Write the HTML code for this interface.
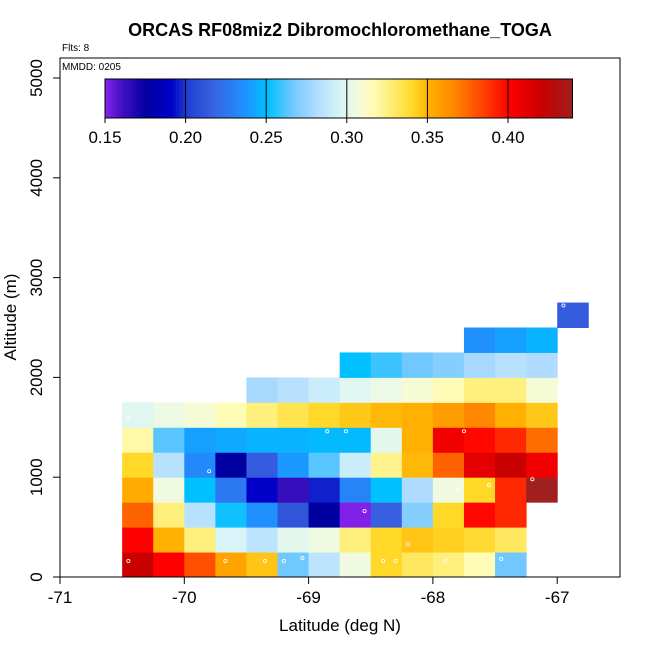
<!DOCTYPE html>
<html><head><meta charset="utf-8"><style>
body{margin:0;background:#fff;}
svg text{font-family:"Liberation Sans",sans-serif;}
</style></head><body>
<svg id="c" width="650" height="650" xmlns="http://www.w3.org/2000/svg">
<text x="340" y="36" text-anchor="middle" font-size="18" font-weight="bold">ORCAS RF08miz2 Dibromochloromethane_TOGA</text>
<text x="62" y="51" font-size="10">Flts: 8</text>
<g id="cells"></g>
<g id="bar"></g>
<rect x="60" y="58" width="560" height="519" fill="none" stroke="#000" stroke-width="1"/>
<text x="62" y="70" font-size="10">MMDD: 0205</text>
<g id="axes"></g>
<text x="340" y="631" text-anchor="middle" font-size="17">Latitude (deg N)</text>
<text transform="translate(16,317) rotate(-90)" text-anchor="middle" font-size="17">Altitude (m)</text>
</svg>
<script>
const latStart=-70.5, latStep=0.25, altStep=250;
const rowStartCols=[0,0,0,0,0,0,0,4,7,11,14];
const rowValues=[
[0.42,0.40,0.38,0.355,0.345,0.265,0.285,0.305,0.34,0.33,0.325,0.315,0.265],
[0.40,0.35,0.325,0.295,0.285,0.30,0.305,0.325,0.34,0.345,0.342,0.338,0.33],
[0.375,0.325,0.283,0.252,0.235,0.21,0.175,0.15,0.215,0.27,0.34,0.398,0.39],
[0.352,0.305,0.25,0.225,0.19,0.162,0.195,0.23,0.25,0.28,0.305,0.34,0.39,0.44],
[0.34,0.283,0.232,0.175,0.213,0.238,0.262,0.29,0.322,0.348,0.375,0.41,0.42,0.405],
[0.318,0.262,0.24,0.243,0.246,0.246,0.248,0.248,0.30,0.35,0.405,0.398,0.39,0.372],
[0.298,0.303,0.308,0.315,0.325,0.333,0.34,0.344,0.348,0.35,0.357,0.365,0.35,0.344],
[0.278,0.283,0.29,0.298,0.303,0.308,0.315,0.325,0.325,0.308],
[0.25,0.258,0.265,0.27,0.278,0.283,0.28],
[0.235,0.24,0.246],
[0.213]
];
const pointLat=[-70.45,-69.8,-69.35,-69.2,-69.05,-68.85,-68.7,-68.55,-68.4,-68.3,-68.2,-67.9,-67.75,-67.8,-67.55,-67.45,-67.2,-66.95,-70.45,-69.67];
const pointAlt=[160,1060,160,160,190,1460,1460,660,160,160,330,160,1460,880,920,180,980,2720,1590,160];
const xTicks=[-71,-70,-69,-68,-67];
const yTicks=[0,1000,2000,3000,4000,5000];
const cbTicks=[0.15,0.20,0.25,0.30,0.35,0.40];
const stops=[[0.15,[128,32,232]],[0.16,[64,16,192]],[0.175,[0,0,160]],[0.19,[0,0,200]],[0.20,[32,64,208]],[0.215,[56,96,224]],[0.235,[32,144,255]],[0.25,[0,192,255]],[0.265,[112,200,255]],[0.28,[176,220,255]],[0.295,[216,244,248]],[0.305,[240,250,224]],[0.315,[255,252,184]],[0.33,[255,232,96]],[0.34,[255,216,40]],[0.35,[255,176,0]],[0.365,[255,136,0]],[0.38,[255,80,0]],[0.40,[255,0,0]],[0.42,[200,0,0]],[0.44,[160,32,32]]];
function col(v){
 if(v<=stops[0][0])return `rgb(${stops[0][1]})`;
 for(let i=1;i<stops.length;i++){if(v<=stops[i][0]){const a=stops[i-1],b=stops[i],t=(v-a[0])/(b[0]-a[0]);return `rgb(${a[1].map((c,k)=>Math.round(c+(b[1][k]-c)*t)).join(',')})`;}}
 return `rgb(${stops[stops.length-1][1]})`;
}
const X=l=>60+(l+71)*124.3, Y=a=>577-a*0.0998;
const NS="http://www.w3.org/2000/svg";
function mk(t,a,p){const e=document.createElementNS(NS,t);for(const k in a)e.setAttribute(k,a[k]);p.appendChild(e);return e;}
const cells=document.getElementById('cells');
rowValues.forEach((row,r)=>row.forEach((v,i)=>{
 const l=latStart+(rowStartCols[r]+i)*latStep, a=r*altStep;
 const e=mk('rect',{x:X(l),y:Y(a+altStep),width:X(l+latStep)-X(l)+0.5,height:Y(a)-Y(a+altStep)+0.5,fill:col(v)},cells);
 
 
}));
pointLat.forEach((l,i)=>{
 const e=mk('circle',{cx:X(l),cy:Y(pointAlt[i]),r:1.6,fill:'none',stroke:'#fff','stroke-width':0.8},cells);
 
 
});
const bar=document.getElementById('bar');
const cb0=105,cbPer=80.6/0.05,cbMax=0.44;
for(let v=0.15;v<cbMax;v+=0.002){
 const e=mk('rect',{x:cb0+(v-0.15)*cbPer,y:79,width:0.002*cbPer+0.4,height:39,fill:col(v)},bar);
 
 
}
const fr=mk('rect',{x:cb0,y:79,width:(cbMax-0.15)*cbPer,height:39,fill:'none',stroke:'#000'},bar);


cbTicks.forEach(v=>{
 const x=cb0+(v-0.15)*cbPer;
 if(v>0.15){const ln=mk('line',{x1:x,x2:x,y1:79,y2:118,stroke:'#000','stroke-width':1},bar);
 
 }
 const tk=mk('line',{x1:x,x2:x,y1:118,y2:123,stroke:'#000'},bar);
 
 
 const t=mk('text',{x:x,y:143,'text-anchor':'middle','font-size':17},bar);t.textContent=v.toFixed(2);
 
 
});
const ax=document.getElementById('axes');
xTicks.forEach(v=>{
 const x=X(v);
 const l=mk('line',{x1:x,x2:x,y1:577,y2:584,stroke:'#000'},ax);
 
 
 const t=mk('text',{x:x,y:603,'text-anchor':'middle','font-size':17},ax);t.textContent=v;
 
 
});
yTicks.forEach(v=>{
 const y=Y(v);
 const l=mk('line',{x1:53,x2:60,y1:y,y2:y,stroke:'#000'},ax);
 
 
 const t=mk('text',{transform:`translate(42,${y}) rotate(-90)`,'text-anchor':'middle','font-size':17},ax);t.textContent=v;
 
 
});
</script>
</body></html>
